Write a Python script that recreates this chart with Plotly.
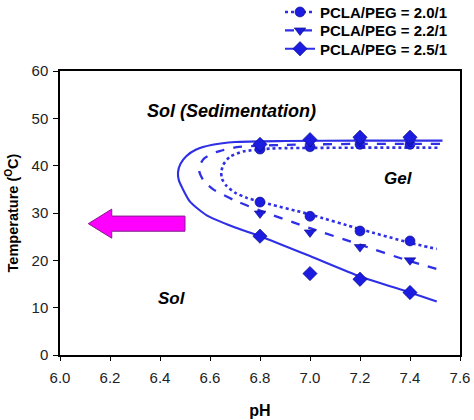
import plotly.graph_objects as go

# ---- measured data points ----
ph_points = [6.8, 7.0, 7.2, 7.4]
series_names = ["PCLA/PEG = 2.0/1", "PCLA/PEG = 2.2/1", "PCLA/PEG = 2.5/1"]
upper_2_0 = [43.5, 44.0, 44.5, 44.5]
lower_2_0 = [32.3, 29.3, 26.2, 24.1]
upper_2_2 = [44.0, 45.0, 45.0, 45.0]
lower_2_2 = [29.9, 25.9, 22.8, 20.0]
upper_2_5 = [44.5, 45.5, 46.0, 46.0]
lower_2_5 = [25.1, 17.2, 16.0, 13.2]

# ---- fitted boundary curves (pH, T) ----
curve_2_0_ph = [7.51, 7.2, 6.9, 6.84, 6.733, 6.68, 6.653, 6.645, 6.648, 6.665, 6.70, 6.747, 6.8, 7.0, 7.2, 7.4, 7.507]
curve_2_0_t = [43.8, 43.8, 43.7, 43.6, 43.0, 41.9, 40.2, 38.6, 37.2, 35.8, 34.3, 33.2, 32.4, 29.7, 26.6, 23.7, 22.4]
curve_2_2_ph = [7.52, 7.2, 6.9, 6.79, 6.707, 6.627, 6.578, 6.560, 6.558, 6.575, 6.613, 6.693, 6.8, 7.0, 7.2, 7.4, 7.52]
curve_2_2_t = [44.6, 44.6, 44.4, 44.2, 43.9, 42.9, 41.6, 40.2, 38.6, 36.8, 35.0, 32.8, 30.5, 26.8, 23.3, 19.8, 18.0]
curve_2_5_ph = [7.53, 7.2, 6.9, 6.7, 6.61, 6.545, 6.505, 6.482, 6.472, 6.475, 6.49, 6.52, 6.587, 6.693, 6.8, 7.0, 7.2, 7.4, 7.507]
curve_2_5_t = [45.3, 45.3, 45.2, 45.0, 44.4, 43.4, 42.0, 40.4, 38.6, 37.0, 35.2, 32.4, 29.5, 27.1, 25.1, 20.9, 16.6, 13.2, 11.3]

x_ticks = [6.0, 6.2, 6.4, 6.6, 6.8, 7.0, 7.2, 7.4, 7.6]
y_ticks = [0, 10, 20, 30, 40, 50, 60]

# ---- styling ----
LINE_COL = "#2f2fe6"
MARK_COL = "#1c1ce0"
EDGE_COL = "#0a0a80"
FONT = "Liberation Sans, Arial, sans-serif"

fig = go.Figure()

styles = [
    (curve_2_0_ph, curve_2_0_t, upper_2_0, lower_2_0, "dot", "circle", 10, 2.6),
    (curve_2_2_ph, curve_2_2_t, upper_2_2, lower_2_2, "dash", "triangle-down", 10, 2.3),
    (curve_2_5_ph, curve_2_5_t, upper_2_5, lower_2_5, "solid", "diamond", 11, 2.1),
]
legend_ids = ["legend", "legend2", "legend3"]
legend_rows_y = [1.207, 1.142, 1.0775]

for name, lid, (cx, cy, up, lo, dash, sym, msize, lw) in zip(series_names, legend_ids, styles):
    fig.add_trace(go.Scatter(x=cx, y=cy, mode="lines",
                             line=dict(color=LINE_COL, width=lw, dash=dash, shape="spline", smoothing=0.6),
                             showlegend=False, hoverinfo="skip"))
    fig.add_trace(go.Scatter(x=ph_points + ph_points, y=up + lo, mode="markers",
                             marker=dict(symbol=sym, size=msize, color=MARK_COL, line=dict(color=EDGE_COL, width=0.6)),
                             showlegend=False))
    # legend entry (line + marker)
    fig.add_trace(go.Scatter(x=[None], y=[None], mode="lines+markers", name=f"<b>{name}</b>", legend=lid,
                             line=dict(color=LINE_COL, width=lw, dash=dash),
                             marker=dict(symbol=sym, size=msize, color=MARK_COL, line=dict(color=EDGE_COL, width=0.6))))

# ---- magenta arrow (pointing to lower pH) ----
arrow_tip_x, arrow_tip_y = 6.113, 27.75
arrow_head_x, arrow_tail_x = 6.207, 6.50
arrow_body_half, arrow_head_half = 1.6, 3.07
path = (f"M {arrow_tip_x},{arrow_tip_y} L {arrow_head_x},{arrow_tip_y + arrow_head_half} "
        f"L {arrow_head_x},{arrow_tip_y + arrow_body_half} L {arrow_tail_x},{arrow_tip_y + arrow_body_half} "
        f"L {arrow_tail_x},{arrow_tip_y - arrow_body_half} L {arrow_head_x},{arrow_tip_y - arrow_body_half} "
        f"L {arrow_head_x},{arrow_tip_y - arrow_head_half} Z")
fig.add_shape(type="path", path=path, xref="x", yref="y", fillcolor="#ff00ff", line=dict(color="#80208a", width=1))

# ---- region labels ----
labels = [("Sol (Sedimentation)", 6.684, 51.5, 18), ("Gel", 7.353, 37.2, 17), ("Sol", 6.447, 12.0, 17)]
for txt, lx, ly, fs in labels:
    fig.add_annotation(x=lx, y=ly, text=f"<b><i>{txt}</i></b>", showarrow=False,
                       font=dict(family=FONT, size=fs, color="black"))

legend_common = dict(x=0.55, xanchor="left", yanchor="middle", bgcolor="rgba(0,0,0,0)",
                     font=dict(family=FONT, size=15, color="black"), itemwidth=30)

fig.update_layout(
    width=474, height=420,
    margin=dict(l=60, r=14, t=71, b=65, autoexpand=False),
    paper_bgcolor="white", plot_bgcolor="white",
    font=dict(family=FONT, size=15, color="#222"),
    showlegend=True,
    legend=dict(y=legend_rows_y[0], **legend_common),
    legend2=dict(y=legend_rows_y[1], **legend_common),
    legend3=dict(y=legend_rows_y[2], **legend_common),
)
fig.update_xaxes(range=[6.0, 7.6], tickvals=x_ticks, ticktext=[f"{v:.1f}" for v in x_ticks],
                 showline=True, linecolor="black", linewidth=1.5, mirror=True, showgrid=False, zeroline=False,
                 ticks="outside", ticklen=4, tickcolor="black", automargin=False, ticklabelstandoff=4,
                 title=dict(text="<b>pH</b>", font=dict(size=16, color="black"), standoff=20))
fig.update_yaxes(range=[0, 60], tickvals=y_ticks,
                 showline=True, linecolor="black", linewidth=1.5, mirror=True, showgrid=False, zeroline=False,
                 ticks="outside", ticklen=5, tickcolor="black", automargin=False, ticklabelstandoff=2,
                 title=dict(text="<b>Temperature (<sup>O</sup>C)</b>", font=dict(size=14.5, color="black"), standoff=9))

# remove the browser's default 8px page margin so the 474x420 figure fills the window exactly
fig.write_html("out.html", config={"displayModeBar": False},
               post_script="document.body.style.margin='0';document.body.style.overflow='hidden';")
